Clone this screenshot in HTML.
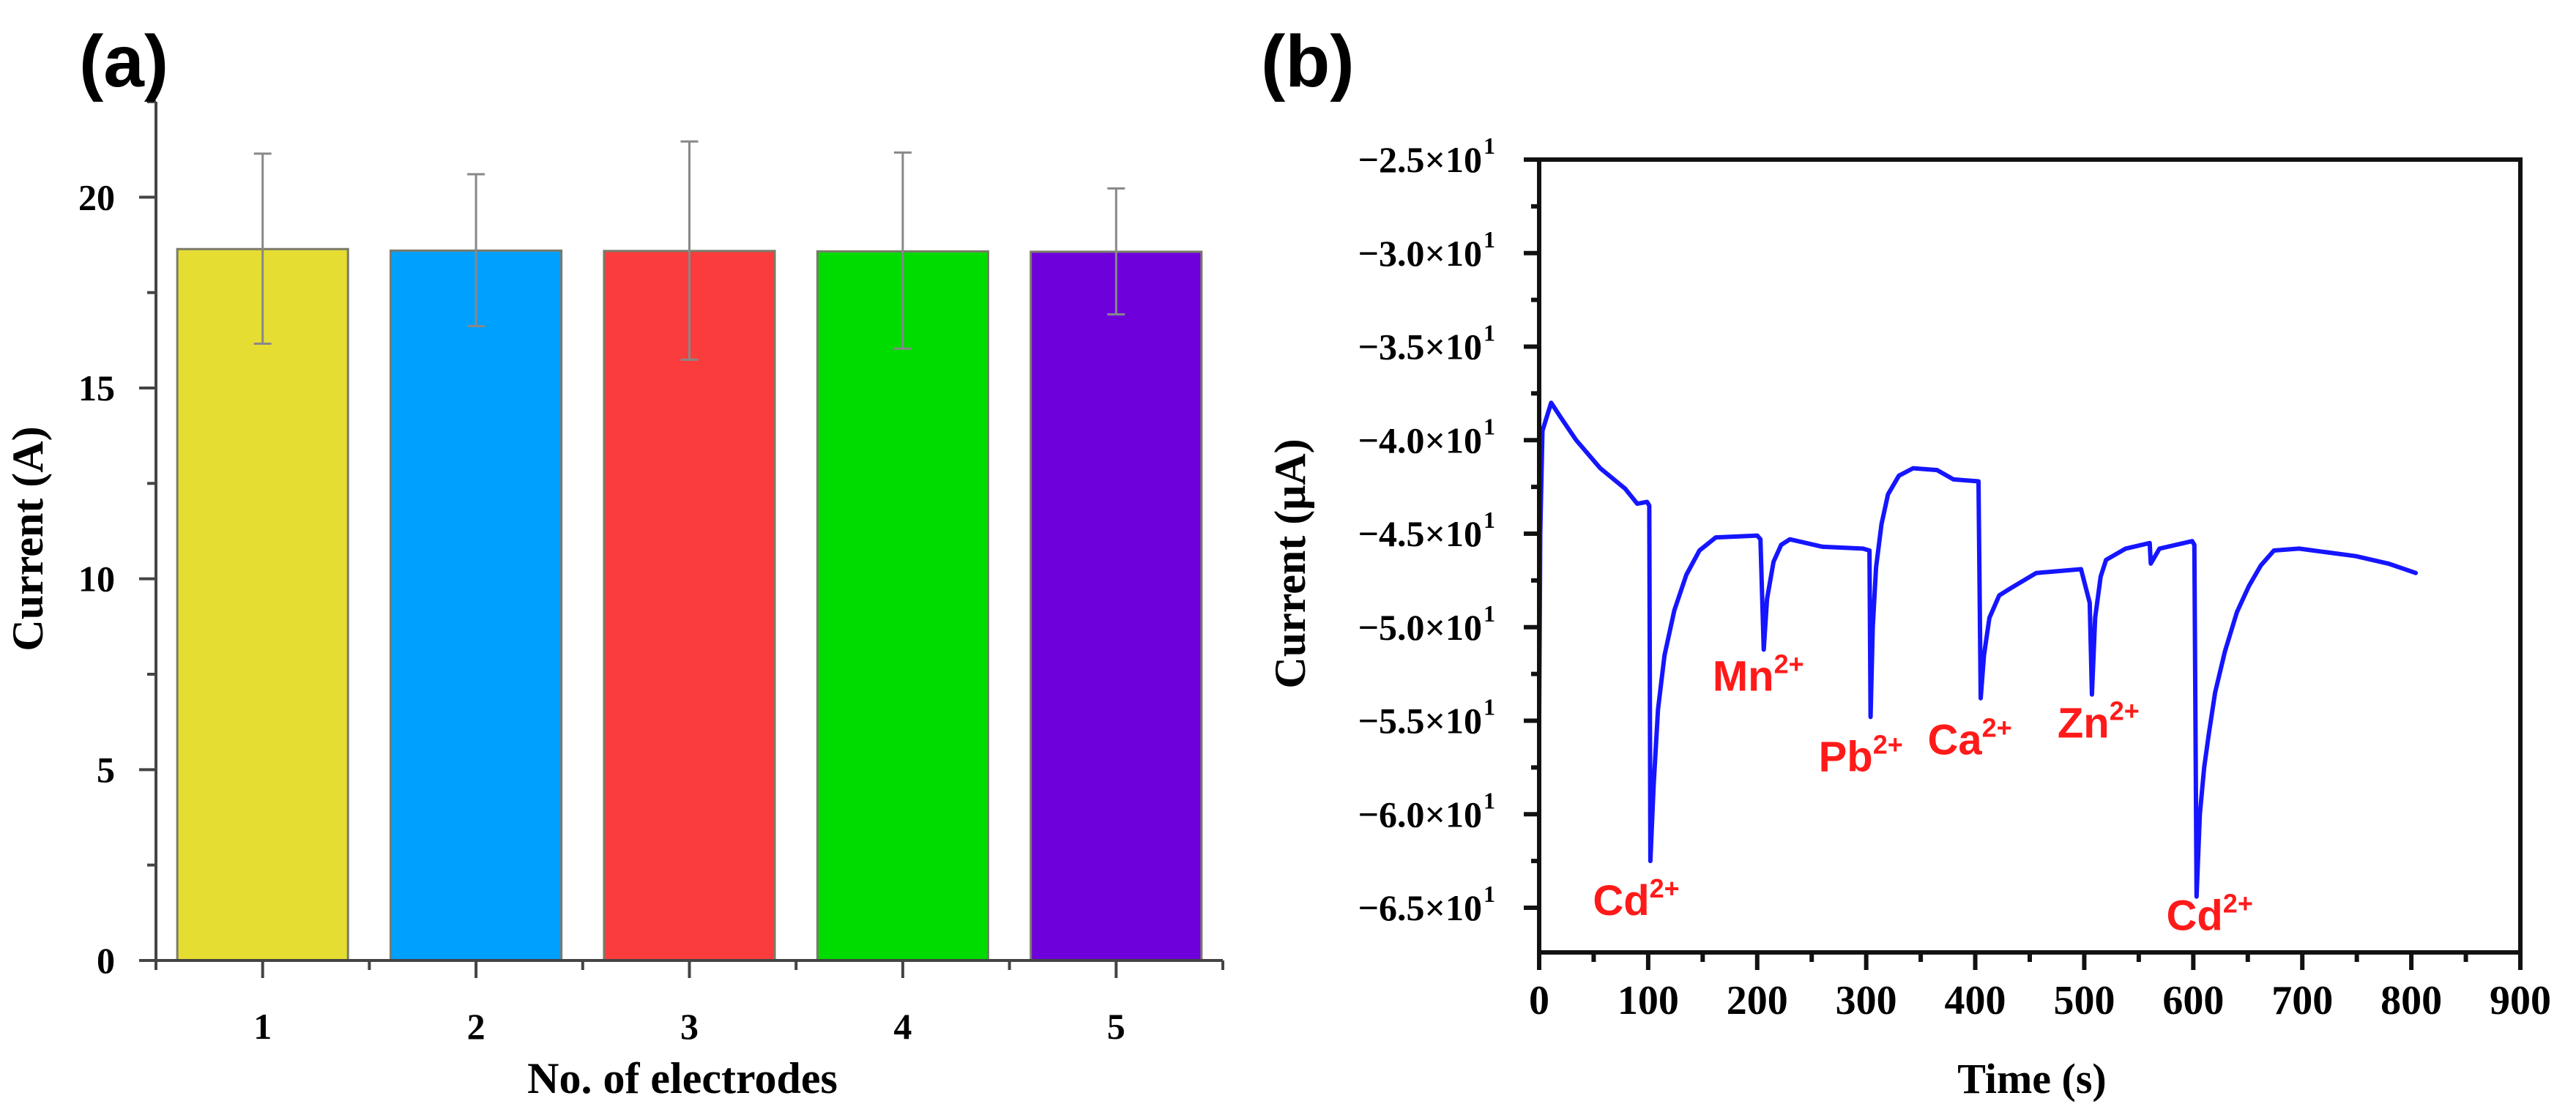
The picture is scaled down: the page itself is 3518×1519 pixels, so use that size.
<!DOCTYPE html>
<html><head><meta charset="utf-8"><style>
html,body{margin:0;padding:0;background:#fff;}
svg{display:block;}
</style></head><body>
<svg id="fig" width="3518" height="1519" viewBox="0 0 3518 1519" xmlns="http://www.w3.org/2000/svg">
<rect x="0" y="0" width="3518" height="1519" fill="#fff"/>
<g id="pa"></g>
<g id="pb"></g>
</svg>
<script>
// ---- Panel (a) data ----
const aCategories = ["1","2","3","4","5"];
const aValues = [18.64, 18.60, 18.59, 18.58, 18.57];
const aErrHigh = [21.14, 20.60, 21.46, 21.17, 20.23];
const aErrLow = [16.16, 16.62, 15.74, 16.03, 16.93];
const aColors = ["#e6dd32","#00a0ff","#fa3c3c","#00dc00","#6e00dc"];
const aYTicks = [0,5,10,15,20];
// ---- Panel (b) data ----
const bTime = [0,1,3,11,20,34,56,79,90,99,101,102,105,109,115,124,135,147,162,200,203,206,209,215,222,230,260,297,303,304,306,309,314,320,330,343,365,380,403,405,408,413,422,433,456,497,505,507,510,515,520,538,560,561,569,599,601,603,606,610,614,620,629,640,651,662,674,697,749,779,804];
const bCurrent = [-54.8,-45.0,-39.5,-38.0,-38.8,-40.0,-41.5,-42.6,-43.4,-43.3,-43.5,-62.5,-58.5,-54.4,-51.5,-49.1,-47.2,-45.9,-45.2,-45.1,-45.3,-51.2,-48.5,-46.5,-45.6,-45.3,-45.7,-45.8,-45.9,-54.8,-50.0,-46.8,-44.5,-42.9,-41.9,-41.5,-41.6,-42.1,-42.2,-53.8,-51.5,-49.5,-48.3,-47.9,-47.1,-46.9,-48.7,-53.6,-49.5,-47.3,-46.4,-45.8,-45.5,-46.6,-45.8,-45.4,-45.6,-64.4,-60.0,-57.5,-55.8,-53.5,-51.3,-49.2,-47.8,-46.7,-45.9,-45.8,-46.2,-46.6,-47.1];
const bXTicks = [0,100,200,300,400,500,600,700,800,900];
const bYTicks = [-25,-30,-35,-40,-45,-50,-55,-60,-65];
const bYTickLabels = ["\u22122.5","\u22123.0","\u22123.5","\u22124.0","\u22124.5","\u22125.0","\u22125.5","\u22126.0","\u22126.5"];
const bIons = ["Cd","Mn","Pb","Ca","Zn","Cd"];
const bIonTime = [89,201,295,395,513,615];
const bIonLevel = [-65.4,-53.4,-57.7,-56.8,-55.9,-66.2];

const NS="http://www.w3.org/2000/svg";
function mk(parent,tag,attrs,text){const e=document.createElementNS(NS,tag);for(const k in attrs)e.setAttribute(k,attrs[k]);if(text!==undefined)e.textContent=text;parent.appendChild(e);return e;}
const serif='"Liberation Serif", serif', sans='"Liberation Sans", sans-serif';

// ---------- Panel A ----------
const pa=document.getElementById('pa');
const aX0=213, aX1=1670, aY0=1312, aYTop=139;
const aYmin=0, aYmax=22.5;
function ax(c){return aX0+(c-0.5)/5*(aX1-aX0);}
function ay(v){return aY0-(v-aYmin)/(aYmax-aYmin)*(aY0-aYTop);}
const bw=(ax(1.5)-ax(0.5))*0.8;
aValues.forEach((v,i)=>{
  const r=mk(pa,'rect',{x:ax(i+1)-bw/2,y:ay(v),width:bw,height:ay(0)-ay(v),fill:aColors[i],stroke:'#7a7a6a','stroke-width':3});
  
  
});
aValues.forEach((v,i)=>{
  const g=mk(pa,'g',{stroke:'#888','stroke-width':3});
  
  
  const cx=ax(i+1);
  mk(g,'line',{x1:cx,x2:cx,y1:ay(aErrHigh[i]),y2:ay(aErrLow[i])});
  mk(g,'line',{x1:cx-12,x2:cx+12,y1:ay(aErrHigh[i]),y2:ay(aErrHigh[i])});
  mk(g,'line',{x1:cx-12,x2:cx+12,y1:ay(aErrLow[i]),y2:ay(aErrLow[i])});
});
const aAx=mk(pa,'g',{stroke:'#444','stroke-width':4});


mk(aAx,'line',{x1:aX0,x2:aX0,y1:aYTop,y2:aY0+2});
mk(aAx,'line',{x1:aX0-2,x2:aX1,y1:aY0,y2:aY0});
for(let v=0;v<=22.5;v+=2.5){const maj=(v%5===0);mk(aAx,'line',{x1:aX0-(maj?23:12),x2:aX0,y1:ay(v),y2:ay(v)});}
for(let c=0.5;c<=5.5;c+=0.5){const maj=Number.isInteger(c);mk(aAx,'line',{x1:ax(c),x2:ax(c),y1:aY0,y2:aY0+(maj?24:13)});}
aYTicks.forEach(v=>{const t=mk(pa,'text',{x:157,y:ay(v)+17,'text-anchor':'end','font-family':serif,'font-weight':'bold','font-size':50},String(v));
  });
aCategories.forEach((c,i)=>{const t=mk(pa,'text',{x:ax(i+1),y:1419,'text-anchor':'middle','font-family':serif,'font-weight':'bold','font-size':50},c);
  });
let t=mk(pa,'text',{x:932,y:1493,'text-anchor':'middle','font-family':serif,'font-weight':'bold','font-size':60},'No. of electrodes');

t=mk(pa,'text',{x:0,y:0,'text-anchor':'middle','font-family':serif,'font-weight':'bold','font-size':60,transform:'translate(58,736) rotate(-90)'},'Current  (A)');

t=mk(pa,'text',{x:108,y:118,'font-family':sans,'font-weight':'bold','font-size':100},'(a)');


// ---------- Panel B ----------
const pb=document.getElementById('pb');
const bX0=2102, bX1=3442, bYTop=218, bY0=1301;
const bXmin=0,bXmax=900, bYmaxV=-25, bYAt65=1240;
function bx(v){return bX0+(v-bXmin)/(bXmax-bXmin)*(bX1-bX0);}
function by(v){return bYTop+(bYmaxV-v)/40*(bYAt65-bYTop);}
let d='';
bTime.forEach((tt,i)=>{d+=(i?'L':'M')+bx(tt).toFixed(1)+','+by(bCurrent[i]).toFixed(1);});
const ln=mk(pb,'path',{d:d,fill:'none',stroke:'#1515ff','stroke-width':6,'stroke-linejoin':'round','stroke-linecap':'round'});


const bAx=mk(pb,'g',{stroke:'#111','stroke-width':6});


mk(bAx,'rect',{x:bX0,y:bYTop,width:bX1-bX0,height:bY0-bYTop,fill:'none'});
for(let k=0;k<=17;k++){const v=-25-k*2.5;const yy=by(v);if(yy>bY0+1)break;const maj=(k%2===0);mk(bAx,'line',{x1:bX0-(maj?21:11),x2:bX0,y1:yy,y2:yy});}
for(let v=0;v<=900;v+=50){const maj=(v%100===0);mk(bAx,'line',{x1:bx(v),x2:bx(v),y1:bY0,y2:bY0+(maj?24:13)});}
bYTicks.forEach((v,i)=>{const tx=mk(pb,'text',{x:2024,y:by(v)+17,'text-anchor':'end','font-family':serif,'font-weight':'bold','font-size':50},bYTickLabels[i]+'\u00d710');
  
  const s=mk(pb,'text',{x:2026,y:by(v)-8,'font-family':serif,'font-weight':'bold','font-size':32},'1');
  });
bXTicks.forEach(v=>{const tx=mk(pb,'text',{x:bx(v),y:1385,'text-anchor':'middle','font-family':serif,'font-weight':'bold','font-size':56},String(v));
  });
t=mk(pb,'text',{x:2775,y:1493,'text-anchor':'middle','font-family':serif,'font-weight':'bold','font-size':58},'Time (s)');

t=mk(pb,'text',{x:0,y:0,'text-anchor':'middle','font-family':serif,'font-weight':'bold','font-size':60,transform:'translate(1782,770) rotate(-90)'},'Current  (\u03bcA)');

t=mk(pb,'text',{x:1722,y:118,'font-family':sans,'font-weight':'bold','font-size':100},'(b)');

bIons.forEach((ion,i)=>{
  const tx=mk(pb,'text',{x:bx(bIonTime[i]),y:by(bIonLevel[i]),'text-anchor':'middle','font-family':sans,'font-weight':'bold','font-size':58,fill:'#ff1a1a'});
  
  
  const a=document.createElementNS(NS,'tspan');a.textContent=ion;tx.appendChild(a);
  const b=document.createElementNS(NS,'tspan');b.setAttribute('dy','-24');b.setAttribute('font-size','36');b.textContent='2+';tx.appendChild(b);
});
</script>
</body></html>
